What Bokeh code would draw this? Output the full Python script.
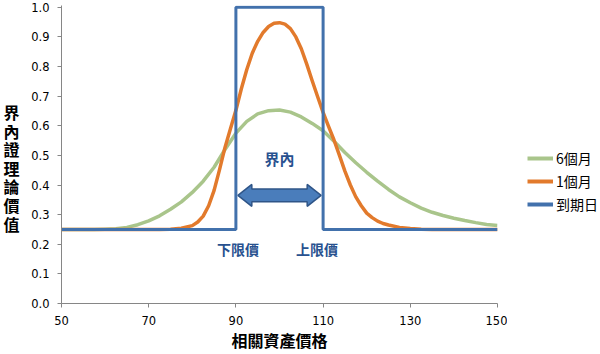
from bokeh.plotting import figure
from bokeh.layouts import row
from bokeh.models import (Range1d, FixedTicker, Legend, LegendItem, Label,
                          PrintfTickFormatter, LinearAxis)
from bokeh.embed import file_html
from bokeh.resources import INLINE

# ---------------- data ----------------
price = [50, 52.5, 55, 57.5, 60, 62.5, 65, 67.5, 70, 72.5,
         75, 77.5, 80, 82.5, 85, 87.5, 90, 92.5, 95, 97.5,
         100, 102.5, 105, 107.5, 110, 112.5, 115, 117.5, 120, 122.5,
         125, 127.5, 130, 132.5, 135, 137.5, 140, 142.5, 145, 147.5, 150]

six_month = [0.250, 0.250, 0.250, 0.250, 0.251, 0.252, 0.257, 0.266, 0.279, 0.296,
             0.318, 0.343, 0.375, 0.413, 0.460, 0.520, 0.575, 0.615, 0.640, 0.651,
             0.653, 0.646, 0.630, 0.608, 0.583, 0.548, 0.510, 0.475, 0.443, 0.413,
             0.385, 0.360, 0.340, 0.322, 0.308, 0.297, 0.288, 0.280, 0.273, 0.267, 0.263]

price_fine = [50, 55, 60, 65, 70, 72.5, 75, 77.5,
              80, 81.25, 82.5, 83.75, 85, 86.25, 87.5, 88.75, 90, 91.25,
              92.5, 93.75, 95, 96.25, 97.5, 98.75, 100, 101.25, 102.5, 103.75,
              105, 106.25, 107.5, 108.75, 110, 111.25, 112.5, 113.75, 115, 116.25,
              117.5, 118.75, 120, 121.25, 122.5, 123.75, 125,
              127.5, 130, 132.5, 135, 140, 145, 150]

one_month = [0.250, 0.250, 0.250, 0.250, 0.250, 0.250, 0.251, 0.254,
             0.263, 0.275, 0.295, 0.330, 0.382, 0.452, 0.527, 0.590, 0.652, 0.725,
             0.790, 0.845, 0.885, 0.915, 0.935, 0.946, 0.948, 0.943, 0.928, 0.900,
             0.860, 0.808, 0.752, 0.698, 0.645, 0.598, 0.552, 0.500, 0.447, 0.400,
             0.360, 0.330, 0.305, 0.290, 0.278, 0.270, 0.265,
             0.257, 0.253, 0.251, 0.250, 0.250, 0.250, 0.250]

lower_bound = 90
upper_bound = 110
floor_value = 0.25
cap_value = 1.0
expiry_x = [50, lower_bound, lower_bound, upper_bound, upper_bound, 150]
expiry_y = [floor_value, floor_value, cap_value, cap_value, floor_value, floor_value]

series_names = ["6個月", "1個月", "到期日"]
x_ticks = [50, 70, 90, 110, 130, 150]
y_ticks = [0.0, 0.1, 0.2, 0.3, 0.4, 0.5, 0.6, 0.7, 0.8, 0.9, 1.0]
x_title = "相關資產價格"
y_title = "界內證理論價值"
band_label = "界內"
lower_label = "下限價"
upper_label = "上限價"

# ---------------- styling ----------------
GREEN = "#A9C58B"
ORANGE = "#E27A2C"
BLUE = "#4271AC"
TEXT_BLUE = "#28518F"
AXIS_GREY = "#868686"
CJK = "Noto Sans CJK TC"

W, H = 600, 354
MAIN_W = 507
LEFT, RIGHT, TOP, BOTTOM = 59, 10, 5, 50
Y_END = 1.006
fw = MAIN_W - LEFT - RIGHT
fh = H - TOP - BOTTOM

p = figure(width=MAIN_W, height=H, x_range=Range1d(50, 150), y_range=Range1d(0, Y_END),
           output_backend="svg", toolbar_location=None,
           min_border_left=LEFT, min_border_right=RIGHT,
           min_border_top=TOP, min_border_bottom=BOTTOM)
p.xgrid.visible = False
p.ygrid.visible = False
p.outline_line_color = None
p.background_fill_color = "white"
p.border_fill_color = "white"

r6 = p.line(price, six_month, line_color=GREEN, line_width=3.5, line_join="round")
r1 = p.line(price_fine, one_month, line_color=ORANGE, line_width=3.5, line_join="round")
re = p.line(expiry_x, expiry_y, line_color=BLUE, line_width=3)

# double arrow between the bounds
ux = 100.0 / fw
uy = Y_END / fh
ay = 0.365
gap = 2 * ux
hl, hh, sh = 14 * ux, 11 * uy, 6.5 * uy
xl, xr = lower_bound + gap, upper_bound - gap
ax = [xl, xl + hl, xl + hl, xr - hl, xr - hl, xr, xr - hl, xr - hl, xl + hl, xl + hl]
ayy = [ay, ay + hh, ay + sh, ay + sh, ay + hh, ay, ay - hh, ay - sh, ay - sh, ay - hh]
p.patch(ax, ayy, fill_color="#4A7DBB", line_color="#2F5588", line_width=1.5)

p.add_layout(Label(x=(lower_bound + upper_bound) / 2, y=0.488, text=band_label,
                   text_align="center", text_baseline="middle", text_font=CJK,
                   text_font_style="bold", text_font_size="15px", text_color=TEXT_BLUE))
p.add_layout(Label(x=lower_bound, y=0.185, x_offset=2, text=lower_label,
                   text_align="center", text_baseline="middle", text_font=CJK,
                   text_font_style="bold", text_font_size="14px", text_color=TEXT_BLUE))
p.add_layout(Label(x=upper_bound, y=0.185, x_offset=-6, text=upper_label,
                   text_align="center", text_baseline="middle", text_font=CJK,
                   text_font_style="bold", text_font_size="14px", text_color=TEXT_BLUE))

# axes
for ax_ in (p.xaxis[0], p.yaxis[0]):
    ax_.axis_line_color = AXIS_GREY
    ax_.major_tick_line_color = AXIS_GREY
    ax_.minor_tick_line_color = None
    ax_.major_tick_in = 0
    ax_.major_tick_out = 4
    ax_.major_label_text_font = "DejaVu Sans"
    ax_.major_label_text_font_size = "11.5px"
    ax_.major_label_text_color = "black"

p.xaxis.ticker = FixedTicker(ticks=x_ticks)
p.yaxis.ticker = FixedTicker(ticks=y_ticks)
p.yaxis.formatter = PrintfTickFormatter(format="%.1f")
p.xaxis.major_label_standoff = 8
p.yaxis.major_label_standoff = 8
p.xaxis.axis_label = x_title
p.xaxis.axis_label_text_font = CJK
p.xaxis.axis_label_text_font_style = "bold"
p.xaxis.axis_label_text_font_size = "16px"
p.xaxis.axis_label_text_color = "black"
p.xaxis.axis_label_standoff = 0

# vertical stacked y title, drawn as an extra label-only axis (pixel range)
p.extra_y_ranges = {"ytitle": Range1d(0, fh)}
title_pos = [192, 173, 155, 136, 118, 99, 80]
title_axis = LinearAxis(y_range_name="ytitle", ticker=FixedTicker(ticks=title_pos),
                        major_label_overrides={t: c for t, c in zip(title_pos, y_title)},
                        axis_line_color=None, major_tick_line_color=None,
                        minor_tick_line_color=None, major_tick_in=0, major_tick_out=0,
                        major_label_standoff=9, major_label_text_font=CJK,
                        major_label_text_font_style="bold",
                        major_label_text_font_size="16px", major_label_text_color="black")
p.add_layout(title_axis, "left")

# ---------------- legend panel (separate canvas to the right) ----------------
q = figure(width=W - MAIN_W, height=H, x_range=Range1d(0, 1), y_range=Range1d(0, 1),
           output_backend="svg", toolbar_location=None,
           x_axis_location=None, y_axis_location=None,
           min_border_left=0, min_border_right=0, min_border_top=0, min_border_bottom=0)
q.xgrid.visible = False
q.ygrid.visible = False
q.outline_line_color = None
q.background_fill_color = "white"
q.border_fill_color = "white"
# same series, outside this canvas' ranges: only their legend swatches show
g6 = q.line(price, six_month, line_color=GREEN, line_width=4)
g1 = q.line(price_fine, one_month, line_color=ORANGE, line_width=4)
ge = q.line(expiry_x, expiry_y, line_color=BLUE, line_width=4)

legend = Legend(items=[LegendItem(label=series_names[0], renderers=[g6]),
                       LegendItem(label=series_names[1], renderers=[g1]),
                       LegendItem(label=series_names[2], renderers=[ge])],
                location=(20, 89), glyph_width=26, glyph_height=20, label_height=20,
                spacing=3, padding=0, margin=0, label_standoff=3,
                border_line_color=None, background_fill_alpha=0,
                label_text_font=CJK, label_text_font_size="14px", label_text_color="black")
q.add_layout(legend)

layout = row(p, q, spacing=0)
open("out.html", "w").write(file_html(layout, INLINE))
